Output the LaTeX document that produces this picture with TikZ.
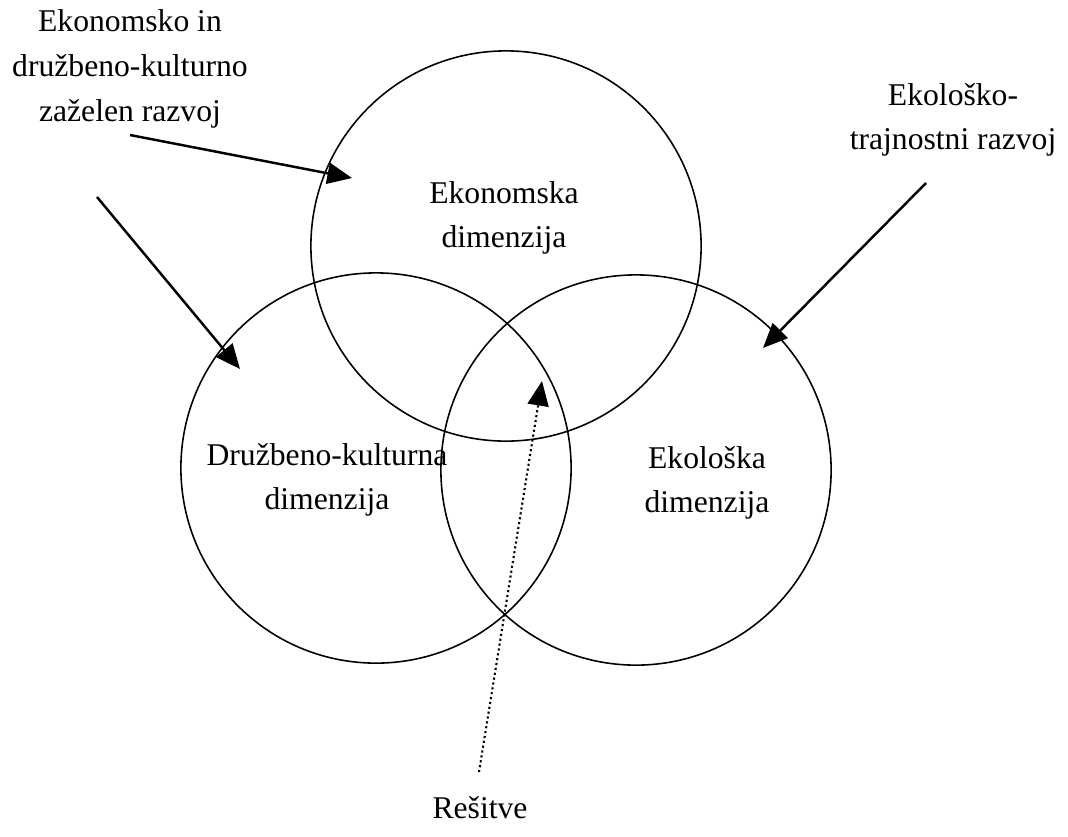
\documentclass[tikz,border=0pt]{standalone}
\usepackage{fontspec}
\setmainfont{Liberation Serif}
\usetikzlibrary{arrows.meta}

\begin{document}
\begin{tikzpicture}[
    x=0.01cm, y=-0.01cm,
    krog/.style={circle, draw=black, line width=0.45pt, minimum size=3.9cm, inner sep=0pt},
    oznaka/.style={align=center, inner sep=0pt, font=\fontsize{9}{12.7}\selectfont},
    puscica/.style={-{Triangle[length=7pt, width=6pt]}, line width=0.7pt},
    pikcasta/.style={-{Triangle[length=7pt, width=6pt]}, line width=0.6pt, dash pattern=on 0.6pt off 0.8pt}
]
    \useasboundingbox (0,0) rectangle (1068,836);

    % --- KROGI ---
    \node[krog] (ekon) at (506,246) {};
    \node[krog] (druz) at (376,468) {};
    \node[krog] (ekol) at (636,470) {};

    % --- NAPISI V KROGIH ---
    \node[oznaka] (tEkon) at (504,218) {Ekonomska\\dimenzija};
    \node[oznaka] (tDruz) at (327,480) {Družbeno-kulturna\\dimenzija};
    \node[oznaka] (tEkol) at (707,483) {Ekološka\\dimenzija};

    % --- ZUNANJI NAPISI ---
    \node[oznaka] (razvojA) at (130,69) {Ekonomsko in\\družbeno-kulturno\\zaželen razvoj};
    \node[oznaka] (razvojB) at (953,120) {Ekološko-\\trajnostni razvoj};
    \node[oznaka] (resitve) at (480,808) {Rešitve};

    % --- PUSCICE ---
    \coordinate (zacA) at (130,135);
    \coordinate (zacB) at (97,197);
    \coordinate (zacC) at (926,183);
    \coordinate (zacD) at (479,772);
    \coordinate (konA) at (352,178);
    \coordinate (konB) at (240,369);
    \coordinate (konC) at (763,348);
    \coordinate (konD) at (542,381);
    \draw[puscica] (zacA) -- (konA);
    \draw[puscica] (zacB) -- (konB);
    \draw[puscica] (zacC) -- (konC);
    \draw[pikcasta] (zacD) -- (konD);

\end{tikzpicture}
\end{document}
